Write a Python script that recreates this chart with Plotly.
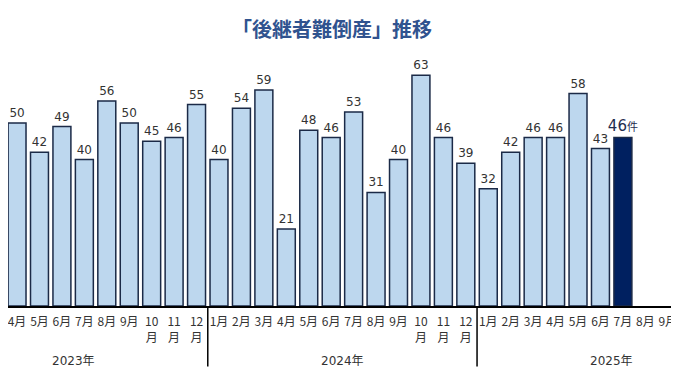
import plotly.graph_objects as go

# Data (visible months, starting at March 2023)
months = ["3月", "4月", "5月", "6月", "7月", "8月", "9月", "10<br>月", "11<br>月", "12<br>月",
          "1月", "2月", "3月", "4月", "5月", "6月", "7月", "8月", "9月", "10<br>月", "11<br>月", "12<br>月",
          "1月", "2月", "3月", "4月", "5月", "6月", "7月", "8月", "9月"]
values = [50, 50, 42, 49, 40, 56, 50, 45, 46, 55,
          40, 54, 59, 21, 48, 46, 53, 31, 40, 63, 46, 39,
          32, 42, 46, 46, 58, 43, 46, None, None]
years = ["2023年", "2024年", "2025年"]
# index (within the visible list) of each year's January (2023 January is two months before the visible start)
year_jan_index = [-2, 10, 22]
highlight_index = 28

x = list(range(len(months)))
bar_x = [i for i, v in zip(x, values) if v is not None]
bar_y = [v for v in values if v is not None]

light = "#BDD7EE"
dark = "#002060"
colors = [dark if i == highlight_index else light for i in bar_x]
texts = [f"{v}" if i != highlight_index else f"{v}<span style='font-size:11px'>件</span>"
         for i, v in zip(bar_x, bar_y)]
tsizes = [15 if i == highlight_index else 12 for i in bar_x]
tcolors = ["#1F2D4F" if i == highlight_index else "#333333" for i in bar_x]

fig = go.Figure()
fig.add_trace(go.Bar(
    x=bar_x, y=bar_y, width=0.8,
    marker=dict(color=colors, line=dict(color="#1B2A47", width=1.5)),
    text=texts, textposition="outside", constraintext="none",
    textfont=dict(size=tsizes, color=tcolors, family="DejaVu Sans, Noto Sans CJK JP"),
    cliponaxis=False, hoverinfo="skip",
))

shapes = []
for j in year_jan_index[1:]:
    shapes.append(dict(type="line", xref="x", yref="paper", x0=j - 0.5, x1=j - 0.5,
                       y0=0, y1=-0.236, line=dict(color="black", width=1.5)))
annotations = []
for yl, j in zip(years, year_jan_index):
    annotations.append(dict(text=yl, x=j + 5.5, y=-0.216, xref="x", yref="paper",
                            showarrow=False, yanchor="middle",
                            font=dict(size=12, color="#333333",
                                      family="DejaVu Sans, Noto Sans CJK JP")))

# The page body adds an 8px offset, so the figure covers the remaining visible area.
fig.update_layout(
    width=671, height=375,
    margin=dict(l=0, r=0, t=42, b=76.5),
    paper_bgcolor="white", plot_bgcolor="white",
    showlegend=False,
    title=dict(text="「後継者難倒産」推移", x=0.483, xanchor="center", y=0.941, yanchor="middle",
               font=dict(size=20, color="#30538F", family="Noto Sans CJK JP", weight="bold")),
    xaxis=dict(range=[0.597, 30.50], tickvals=x, ticktext=months, tickangle=0,
               showline=True, linecolor="black", linewidth=1.5, showgrid=False,
               zeroline=False, ticks="outside", ticklen=4, tickcolor="rgba(0,0,0,0)",
               ticklabeloverflow="allow", fixedrange=True,
               tickfont=dict(size=12, color="#333333", family="Noto Sans CJK JP")),
    yaxis=dict(range=[0, 69.9], visible=False, fixedrange=True),
    shapes=shapes, annotations=annotations,
)

fig.write_html("out.html")
